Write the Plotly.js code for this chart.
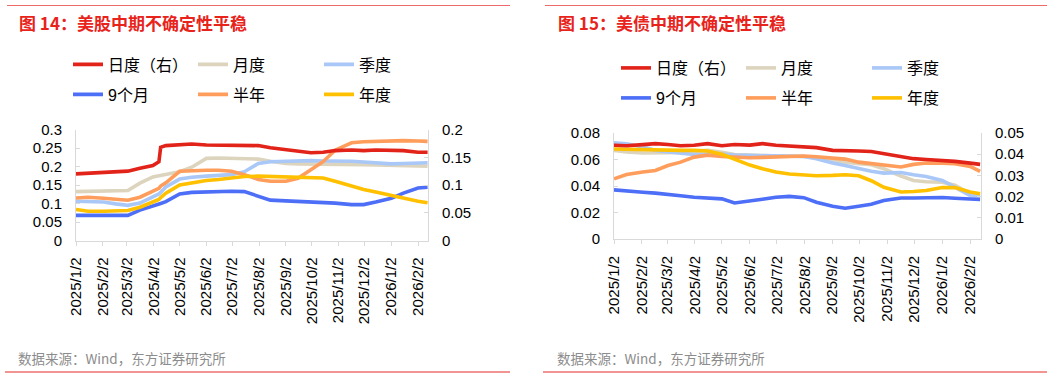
<!DOCTYPE html>
<html>
<head>
<meta charset="utf-8">
<script src="https://cdn.plot.ly/plotly-3.0.1.min.js"></script>
<style>
html,body{margin:0;padding:0;background:#ffffff;}
#chart{width:1061px;height:379px;}
</style>
</head>
<body>
<div id="chart"></div>
<script>
// ---------------- data ----------------
const seriesNames = ['日度（右）', '月度', '季度', '9个月', '半年', '年度'];

// 图14 美股
const stockDates = ['2025-01-02','2025-01-16','2025-02-03','2025-02-17','2025-03-03','2025-03-17','2025-04-01','2025-04-08','2025-04-10','2025-04-16','2025-05-02','2025-05-16','2025-06-02','2025-06-16','2025-07-01','2025-07-16','2025-08-01','2025-08-15','2025-09-02','2025-09-16','2025-10-01','2025-10-15','2025-10-29','2025-11-17','2025-12-01','2025-12-15','2026-01-02','2026-01-16','2026-02-02','2026-02-13'];
const stockDaily     = [0.120,0.121,0.122,0.123,0.125,0.130,0.135,0.142,0.168,0.171,0.172,0.174,0.172,0.172,0.172,0.172,0.171,0.167,0.164,0.162,0.158,0.159,0.162,0.163,0.162,0.163,0.162,0.162,0.159,0.159];
const stockMonthly   = [0.132,0.133,0.134,0.134,0.135,0.155,0.172,0.175,0.176,0.179,0.186,0.198,0.222,0.223,0.222,0.221,0.220,0.214,0.208,0.207,0.207,0.206,0.206,0.205,0.205,0.204,0.203,0.202,0.200,0.201];
const stockQuarterly = [0.106,0.105,0.104,0.099,0.095,0.101,0.117,0.126,0.130,0.145,0.166,0.171,0.174,0.176,0.178,0.186,0.208,0.213,0.215,0.216,0.216,0.215,0.215,0.214,0.212,0.210,0.207,0.208,0.209,0.210];
const stockNineMonth = [0.068,0.068,0.068,0.068,0.068,0.082,0.092,0.097,0.100,0.105,0.126,0.130,0.132,0.133,0.133,0.132,0.120,0.109,0.107,0.106,0.104,0.103,0.101,0.097,0.097,0.104,0.114,0.128,0.142,0.144];
const stockHalfYear  = [0.115,0.117,0.114,0.112,0.109,0.117,0.132,0.141,0.147,0.156,0.187,0.189,0.190,0.190,0.187,0.178,0.165,0.160,0.160,0.168,0.190,0.213,0.244,0.264,0.267,0.268,0.270,0.270,0.269,0.268];
const stockAnnual    = [0.084,0.079,0.079,0.079,0.081,0.090,0.105,0.111,0.116,0.128,0.150,0.156,0.162,0.165,0.169,0.173,0.174,0.173,0.172,0.172,0.171,0.169,0.160,0.146,0.138,0.131,0.121,0.113,0.106,0.102];

// 图15 美债
const bondDates = ['2025-01-02','2025-01-16','2025-02-03','2025-02-17','2025-03-03','2025-03-17','2025-04-01','2025-04-16','2025-05-02','2025-05-16','2025-06-02','2025-06-16','2025-07-01','2025-07-16','2025-08-01','2025-08-15','2025-09-02','2025-09-16','2025-10-01','2025-10-15','2025-10-29','2025-11-17','2025-12-01','2025-12-15','2026-01-02','2026-01-16','2026-02-02','2026-02-13'];
const bondDaily     = [0.0442,0.0440,0.0445,0.0450,0.0446,0.0440,0.0442,0.0450,0.0440,0.0446,0.0443,0.0450,0.0442,0.0437,0.0434,0.0431,0.0418,0.0415,0.0415,0.0413,0.0402,0.0390,0.0379,0.0375,0.0371,0.0366,0.0358,0.0352];
const bondMonthly   = [0.0669,0.0656,0.0649,0.0649,0.0651,0.0656,0.0664,0.0669,0.0654,0.0638,0.0633,0.0631,0.0628,0.0628,0.0623,0.0613,0.0593,0.0580,0.0568,0.0560,0.0530,0.0475,0.0442,0.0432,0.0429,0.0406,0.0341,0.0328];
const bondQuarterly = [0.0727,0.0719,0.0694,0.0669,0.0656,0.0644,0.0638,0.0641,0.0641,0.0633,0.0631,0.0631,0.0631,0.0628,0.0623,0.0606,0.0573,0.0555,0.0530,0.0512,0.0497,0.0502,0.0485,0.0472,0.0442,0.0391,0.0328,0.0315];
const bondNineMonth = [0.0371,0.0361,0.0353,0.0346,0.0333,0.0326,0.0315,0.0310,0.0303,0.0272,0.0285,0.0300,0.0315,0.0322,0.0312,0.0278,0.0247,0.0232,0.0247,0.0262,0.0290,0.0310,0.0310,0.0313,0.0313,0.0308,0.0303,0.0298];
const bondHalfYear  = [0.0454,0.0487,0.0505,0.0517,0.0555,0.0580,0.0618,0.0633,0.0623,0.0618,0.0613,0.0616,0.0621,0.0623,0.0626,0.0621,0.0613,0.0603,0.0580,0.0568,0.0553,0.0543,0.0563,0.0573,0.0573,0.0568,0.0548,0.0510];
const bondAnnual    = [0.0679,0.0676,0.0676,0.0674,0.0671,0.0669,0.0669,0.0664,0.0640,0.0600,0.0558,0.0530,0.0505,0.0490,0.0485,0.0477,0.0480,0.0485,0.0477,0.0440,0.0390,0.0355,0.0358,0.0366,0.0389,0.0388,0.0355,0.0341];

const titleLeft  = '图 14：美股中期不确定性平稳';
const titleRight = '图 15：美债中期不确定性平稳';
const sourceText = '数据来源：Wind，东方证券研究所';

// ---------------- styles ----------------
const W = 1061, H = 379;
const colors = ['#E2231A', '#DDD4BE', '#A9C8F7', '#4D6EF6', '#FF9D5C', '#FFC000'];
const lineW = 3.6;
const px = v => v / W;
const py = v => 1 - v / H;
const tickFont = {family: '"Liberation Sans", Arial, sans-serif', size: 15, color: '#000000'};
const legendFont = {family: '"Liberation Sans", "Noto Sans CJK SC", sans-serif', size: 16, color: '#000000'};
const axisGray = '#d9d9d9';

// legend item anchors (text-start px minus 40, row centre px)
const legendSpots = [
  [68, 64.5], [193, 64.5], [319, 64.5], [68, 94.5], [193, 94.5], [319, 94.5],
  [616, 68], [741, 68], [867, 68], [616, 98], [741, 98], [867, 98]
];

const stockSeries = [stockDaily, stockMonthly, stockQuarterly, stockNineMonth, stockHalfYear, stockAnnual];
const bondSeries  = [bondDaily, bondMonthly, bondQuarterly, bondNineMonth, bondHalfYear, bondAnnual];

const traces = [];
const legendName = i => (i === 0 ? 'legend' : 'legend' + (i + 1));
stockSeries.forEach((ys, i) => {
  traces.push({
    type: 'scatter', mode: 'lines', name: seriesNames[i],
    x: stockDates, y: ys, xaxis: 'x', yaxis: i === 0 ? 'y2' : 'y',
    line: {color: colors[i], width: lineW},
    legend: legendName(i), showlegend: true, hoverinfo: 'skip'
  });
});
bondSeries.forEach((ys, i) => {
  traces.push({
    type: 'scatter', mode: 'lines', name: seriesNames[i],
    x: bondDates, y: ys, xaxis: 'x2', yaxis: i === 0 ? 'y4' : 'y3',
    line: {color: colors[i], width: lineW},
    legend: legendName(i + 6), showlegend: true, hoverinfo: 'skip'
  });
});

// put daily (right axis) traces last so they draw on top
const ordered = traces.filter(t => t.yaxis === 'y' || t.yaxis === 'y3').concat(traces.filter(t => t.yaxis === 'y2' || t.yaxis === 'y4'));

const xBase = {
  type: 'date', tickformat: '%Y/%-m/%-d', tickangle: -90, tick0: '2025-01-02', dtick: 'M1',
  showgrid: false, zeroline: false, showline: true, linecolor: axisGray, linewidth: 1,
  ticks: 'outside', ticklen: 4, tickcolor: axisGray, tickfont: tickFont, ticklabelstandoff: 6,
  fixedrange: true
};
const yBase = {
  showgrid: false, zeroline: false, showline: true, linecolor: axisGray, linewidth: 1,
  ticks: 'inside', ticklen: 4, tickcolor: axisGray, tickfont: tickFont, ticklabelstandoff: 10,
  fixedrange: true
};

const layout = {
  width: W, height: H,
  margin: {l: 0, r: 0, t: 0, b: 0, pad: 0},
  paper_bgcolor: '#ffffff', plot_bgcolor: 'rgba(0,0,0,0)',
  showlegend: true,
  xaxis: Object.assign({}, xBase, {domain: [px(76), px(428)], range: ['2025-01-02', '2026-02-13 12:00'], anchor: 'y'}),
  yaxis: Object.assign({}, yBase, {domain: [py(240.5), py(129.5)], range: [0, 0.3], dtick: 0.05, anchor: 'x', side: 'left'}),
  yaxis2: Object.assign({}, yBase, {domain: [py(240.5), py(129.5)], range: [0, 0.2], dtick: 0.05, anchor: 'x', overlaying: 'y', side: 'right'}),
  xaxis2: Object.assign({}, xBase, {domain: [px(614), px(981)], range: ['2025-01-02', '2026-02-14'], anchor: 'y3'}),
  yaxis3: Object.assign({}, yBase, {domain: [py(239), py(133)], range: [0, 0.08], dtick: 0.02, anchor: 'x2', side: 'left'}),
  yaxis4: Object.assign({}, yBase, {domain: [py(239), py(133)], range: [0, 0.05], dtick: 0.01, anchor: 'x2', overlaying: 'y3', side: 'right'}),
  annotations: [
    {xref: 'paper', yref: 'paper', x: px(17), y: py(22), xanchor: 'left', yanchor: 'middle', showarrow: false,
     text: '<b>' + titleLeft + '</b>', font: {family: '"Noto Sans CJK SC", "Liberation Sans", sans-serif', size: 17, color: '#E8231B'}},
    {xref: 'paper', yref: 'paper', x: px(556), y: py(22), xanchor: 'left', yanchor: 'middle', showarrow: false,
     text: '<b>' + titleRight + '</b>', font: {family: '"Noto Sans CJK SC", "Liberation Sans", sans-serif', size: 17, color: '#E8231B'}},
    {xref: 'paper', yref: 'paper', x: px(16), y: py(358), xanchor: 'left', yanchor: 'middle', showarrow: false,
     text: sourceText, font: {family: '"Noto Sans CJK SC", "Liberation Sans", sans-serif', size: 13.5, color: '#8c8c8c'}},
    {xref: 'paper', yref: 'paper', x: px(555), y: py(358), xanchor: 'left', yanchor: 'middle', showarrow: false,
     text: sourceText, font: {family: '"Noto Sans CJK SC", "Liberation Sans", sans-serif', size: 13.5, color: '#8c8c8c'}}
  ],
  shapes: [
    {type: 'line', xref: 'paper', yref: 'paper', x0: px(7), x1: px(510), y0: py(5.5), y1: py(5.5), line: {color: '#ee6a6a', width: 1}},
    {type: 'line', xref: 'paper', yref: 'paper', x0: px(545), x1: px(1047), y0: py(5.5), y1: py(5.5), line: {color: '#ee6a6a', width: 1}},
    {type: 'line', xref: 'paper', yref: 'paper', x0: px(5), x1: px(510), y0: py(372), y1: py(372), line: {color: '#e52b24', width: 1}},
    {type: 'line', xref: 'paper', yref: 'paper', x0: px(543), x1: px(1047), y0: py(372), y1: py(372), line: {color: '#e52b24', width: 1}}
  ]
};

legendSpots.forEach((p, i) => {
  layout[legendName(i)] = {
    x: px(p[0]), y: py(p[1]), xanchor: 'left', yanchor: 'middle',
    orientation: 'v', bgcolor: 'rgba(0,0,0,0)', borderwidth: 0,
    font: legendFont, itemclick: false, itemdoubleclick: false
  };
});

Plotly.newPlot('chart', ordered, layout, {displayModeBar: false, staticPlot: true, responsive: false});
</script>
</body>
</html>
